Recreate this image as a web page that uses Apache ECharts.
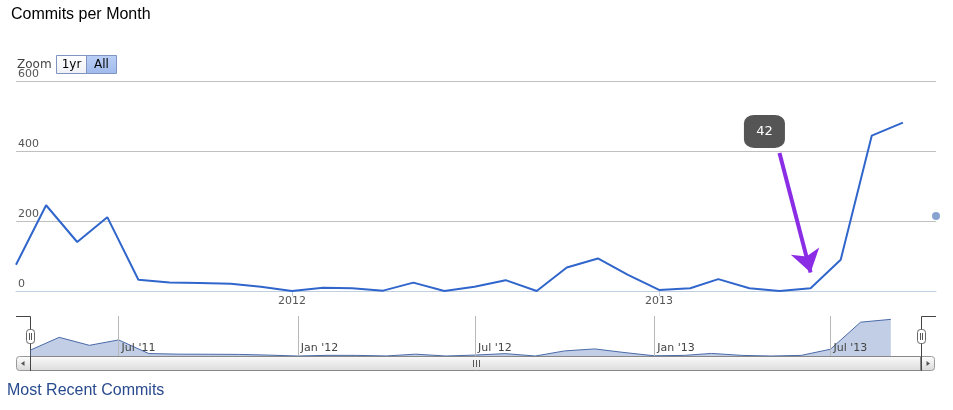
<!DOCTYPE html>
<html>
<head>
<meta charset="utf-8">
<script src="https://cdn.jsdelivr.net/npm/echarts@6/dist/echarts.min.js"></script>
<style>
html,body{margin:0;padding:0;background:#fff;}
#chart{width:953px;height:410px;}
</style>
</head>
<body>
<div id="chart"></div>
<script>
// ---- data ----
var months = ['2011-04-01','2011-05-01','2011-06-01','2011-07-01','2011-08-01','2011-09-01','2011-10-01','2011-11-01','2011-12-01',
  '2012-01-01','2012-02-01','2012-03-01','2012-04-01','2012-05-01','2012-06-01','2012-07-01','2012-08-01','2012-09-01','2012-10-01','2012-11-01','2012-12-01',
  '2013-01-01','2013-02-01','2013-03-01','2013-04-01','2013-05-01','2013-06-01','2013-07-01','2013-08-01','2013-09-01'];
var commits = [75,245,140,211,32,24,23,21,12,
  0,9,8,1,24,0,12,31,0,67,93,46,
  3,8,34,8,0,8,89,444,481];
var yTicks = [0,200,400,600];
var mainTickDates = ['2012-01-01','2013-01-01'];
var mainTickLabels = ['2012','2013'];
var navTickDates = ['2011-07-01','2012-01-01','2012-07-01','2013-01-01','2013-07-01'];
var navTickLabels = ["Jul '11","Jan '12","Jul '12","Jan '13","Jul '13"];
var markerPoint = ['2013-10-04', 214];
var noteText = '42';
var noteAt = ['2013-04-16', 456];
var arrowFrom = ['2013-05-01', 394];
var arrowTo = ['2013-06-01', 53];

function ts(s){ var p = s.split('-'); return Date.UTC(+p[0], +p[1]-1, +p[2]); }
var seriesData = months.map(function(m,i){ return [ts(m), commits[i]]; });
var mainTickTs = mainTickDates.map(ts);
var navTickTs = navTickDates.map(ts);
function labelFor(v, tsArr, labels){
  for (var i=0;i<tsArr.length;i++){ if (Math.abs(tsArr[i]-v) < 3600*1000*12) return labels[i]; }
  return '';
}

var chart = echarts.init(document.getElementById('chart'), null, {renderer:'canvas'});
var axisFont = 'DejaVu Sans';
var grad = function(a,b){ return new echarts.graphic.LinearGradient(0,0,0,1,[{offset:0,color:a},{offset:1,color:b}]); };

var option = {
  animation: false,
  backgroundColor: '#fff',
  title: {
    text: 'Commits per Month', left: 6, top: 2,
    textStyle: {fontFamily: 'Liberation Sans', fontSize: 16, fontWeight: 'normal', color: '#000'}
  },
  grid: [
    {left: 16, right: 17, top: 81, height: 210, containLabel: false},
    {left: 30, right: 32, top: 316, height: 40, containLabel: false}
  ],
  xAxis: [
    {
      type: 'value', gridIndex: 0, min: ts('2011-04-01'), max: ts('2013-10-04'),
      axisLine: {show: true, lineStyle: {color: '#C0D0E0', width: 1}},
      axisTick: {show: true, customValues: mainTickTs, length: 5, lineStyle: {color: '#C0D0E0'}},
      axisLabel: {show: true, customValues: mainTickTs, margin: 5, color: '#555', fontFamily: axisFont, fontSize: 11,
        formatter: function(v){ return labelFor(v, mainTickTs, mainTickLabels); }},
      splitLine: {show: false}
    },
    {
      type: 'value', gridIndex: 1, min: ts('2011-04-01'), max: ts('2013-10-02'), z: 5,
      axisLine: {show: false},
      axisTick: {show: false},
      axisLabel: {show: true, inside: true, customValues: navTickTs, margin: 2, align: 'left', verticalAlign: 'bottom',
        padding: [0,0,0,3], color: '#444', fontFamily: axisFont, fontSize: 11,
        formatter: function(v){ return labelFor(v, navTickTs, navTickLabels); }},
      splitLine: {show: false}
    }
  ],
  yAxis: [
    {
      type: 'value', gridIndex: 0, min: 0, max: 600, interval: 200,
      axisLine: {show: false}, axisTick: {show: false},
      axisLabel: {inside: true, margin: 2, align: 'left', verticalAlign: 'bottom', padding: [0,0,1,0],
        color: '#555', fontFamily: axisFont, fontSize: 11,
        formatter: function(v){ return yTicks.indexOf(v) >= 0 ? String(v) : ''; }},
      splitLine: {show: true, lineStyle: {color: '#C0C0C0', width: 1}}
    },
    {
      type: 'value', gridIndex: 1, min: 0, max: 525, show: false
    }
  ],
  series: [
    {
      type: 'line', xAxisIndex: 0, yAxisIndex: 0, data: seriesData,
      showSymbol: false, symbol: 'none', z: 3,
      lineStyle: {color: '#3066cc', width: 2},
      markPoint: {
        symbol: 'roundRect', symbolSize: [41, 33], silent: true,
        itemStyle: {color: '#555555'},
        label: {show: true, position: 'inside', color: '#fff', fontFamily: axisFont, fontSize: 13,
          formatter: function(){ return noteText; }},
        data: [{coord: [ts(noteAt[0]), noteAt[1]], value: noteText}]
      },
      markLine: {
        silent: true, symbol: ['none', 'arrow'], symbolSize: 22,
        lineStyle: {color: '#8a2de4', width: 4, type: 'solid'},
        label: {show: false},
        data: [[{coord: [ts(arrowFrom[0]), arrowFrom[1]]}, {coord: [ts(arrowTo[0]), arrowTo[1]]}]]
      }
    },
    {
      type: 'scatter', xAxisIndex: 0, yAxisIndex: 0, clip: false,
      data: [[ts(markerPoint[0]), markerPoint[1]]],
      symbolSize: 8, itemStyle: {color: '#6a8cc6'}
    },
    {
      type: 'line', xAxisIndex: 1, yAxisIndex: 1, data: seriesData,
      showSymbol: false, symbol: 'none', z: 2,
      lineStyle: {color: '#4a6aa8', width: 1},
      areaStyle: {color: 'rgba(79,115,184,0.5)'},
      markLine: {
        silent: true, symbol: ['none','none'], label: {show: false},
        lineStyle: {color: '#b8b8b8', width: 1, type: 'solid'},
        data: navTickTs.map(function(t){ return {xAxis: t}; })
      }
    }
  ],
  graphic: [
    {type: 'text', left: 17, top: 59, style: {text: 'Zoom', font: '12px "DejaVu Sans"', fill: '#444'}},
    {type: 'rect', shape: {x: 56.5, y: 55.5, width: 30, height: 18}, style: {fill: grad('#ffffff','#eef0f6'), stroke: '#7f95c0', lineWidth: 1}},
    {type: 'text', x: 71.5, y: 65, style: {text: '1yr', font: '12px "DejaVu Sans"', fill: '#000', align: 'center', verticalAlign: 'middle'}},
    {type: 'rect', shape: {x: 86.5, y: 55.5, width: 30, height: 18}, style: {fill: grad('#bcd0f6','#9fb9ec'), stroke: '#7f95c0', lineWidth: 1}},
    {type: 'text', x: 101.5, y: 65, style: {text: 'All', font: '12px "DejaVu Sans"', fill: '#000', align: 'center', verticalAlign: 'middle'}},
    // scrollbar
    {type: 'rect', shape: {x: 16.5, y: 356.5, width: 918, height: 14, r: 3}, style: {fill: grad('#ffffff','#d8d8d8'), stroke: '#999', lineWidth: 1}},
    {type: 'rect', shape: {x: 30.5, y: 356.5, width: 890, height: 14}, style: {fill: grad('#fbfbfb','#dcdcdc'), stroke: '#888', lineWidth: 1}},
    {type: 'polygon', shape: {points: [[21,363.5],[24.5,361],[24.5,366]]}, style: {fill: '#555'}},
    {type: 'polygon', shape: {points: [[930,363.5],[926.5,361],[926.5,366]]}, style: {fill: '#555'}},
    {type: 'line', shape: {x1: 473.5, y1: 360, x2: 473.5, y2: 367}, style: {stroke: '#555', lineWidth: 1}},
    {type: 'line', shape: {x1: 476.5, y1: 360, x2: 476.5, y2: 367}, style: {stroke: '#555', lineWidth: 1}},
    {type: 'line', shape: {x1: 479.5, y1: 360, x2: 479.5, y2: 367}, style: {stroke: '#555', lineWidth: 1}},
    // navigator outline
    {type: 'polyline', shape: {points: [[16,316.5],[30.5,316.5],[30.5,371]]}, style: {stroke: '#444', lineWidth: 1, fill: null}},
    {type: 'polyline', shape: {points: [[936,316.5],[921.5,316.5],[921.5,371]]}, style: {stroke: '#444', lineWidth: 1, fill: null}},
    // handles
    {type: 'rect', shape: {x: 26.5, y: 329.5, width: 8, height: 14, r: 3}, style: {fill: '#fff', stroke: '#666', lineWidth: 1}},
    {type: 'line', shape: {x1: 29.5, y1: 333, x2: 29.5, y2: 340}, style: {stroke: '#555', lineWidth: 1}},
    {type: 'line', shape: {x1: 31.5, y1: 333, x2: 31.5, y2: 340}, style: {stroke: '#555', lineWidth: 1}},
    {type: 'rect', shape: {x: 917.5, y: 329.5, width: 8, height: 14, r: 3}, style: {fill: '#fff', stroke: '#666', lineWidth: 1}},
    {type: 'line', shape: {x1: 920.5, y1: 333, x2: 920.5, y2: 340}, style: {stroke: '#555', lineWidth: 1}},
    {type: 'line', shape: {x1: 922.5, y1: 333, x2: 922.5, y2: 340}, style: {stroke: '#555', lineWidth: 1}},
    {type: 'text', left: 7, top: 383, style: {text: 'Most Recent Commits', font: '16px "Liberation Sans"', fill: '#284a8e'}}
  ]
};
chart.setOption(option);
</script>
</body>
</html>
